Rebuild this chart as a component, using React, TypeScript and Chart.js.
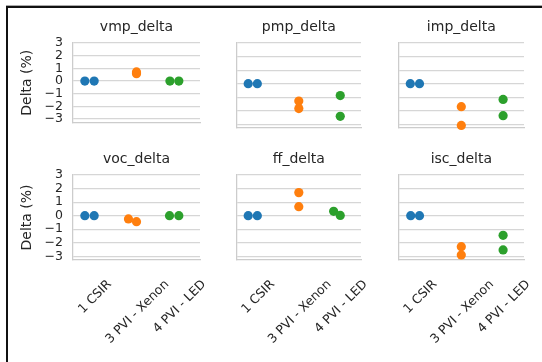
import React, { useEffect, useRef } from 'react';
import { Chart, registerables } from 'chart.js';

Chart.register(...registerables);

// ---------- data ----------
const categories = ['1 CSIR', '3 PVI - Xenon', '4 PVI - LED'];
const yTickValues = [-3, -2, -1, 0, 1, 2, 3];
const yMin = -3.27;
const yMax = 3;

// values per category (two measurements each)
const vmpDelta = [[0, 0], [0.72, 0.58], [0, 0]];
const pmpDelta = [[0, 0], [-1.28, -1.84], [-0.88, -2.41]];
const impDelta = [[0, 0], [-1.7, -3.08], [-1.16, -2.36]];
const vocDelta = [[0, 0], [-0.24, -0.44], [0, 0]];
const ffDelta = [[0, 0], [1.7, 0.66], [0.32, 0.02]];
const iscDelta = [[0, 0], [-2.29, -2.9], [-1.45, -2.53]];

// swarm jitter (category units)
const vmpJitter = [[-0.22, 0], [0, 0], [-0.21, 0]];
const pmpJitter = [[-0.22, 0], [0, 0], [0, 0]];
const impJitter = [[-0.22, 0], [0, 0], [0, 0]];
const vocJitter = [[-0.22, 0], [-0.19, 0], [-0.22, 0]];
const ffJitter = [[-0.22, 0], [0, 0], [-0.16, 0]];
const iscJitter = [[-0.21, 0], [0, 0], [0, 0]];

const panels = [
  { name: 'vmp_delta', values: vmpDelta, jitter: vmpJitter },
  { name: 'pmp_delta', values: pmpDelta, jitter: pmpJitter },
  { name: 'imp_delta', values: impDelta, jitter: impJitter },
  { name: 'voc_delta', values: vocDelta, jitter: vocJitter },
  { name: 'ff_delta', values: ffDelta, jitter: ffJitter },
  { name: 'isc_delta', values: iscDelta, jitter: iscJitter },
];

// ---------- style / layout ----------
const COLORS = ['#1f77b4', '#ff7f0e', '#2ca02c'];
const FONT = '"DejaVu Sans", "Liberation Sans", Arial, sans-serif';
const TEXT = '#262626';
const GRID = '#d6d6d6';
const SPINE = '#cccccc';
const COL_LEFT = [73, 236, 398];
const COL_W = [127, 125, 126];
const ROW_TOP = [43, 175];
const PLOT_H = 85;
const PAD_TOP = 43;
const LABEL_DX = 1;
const LABEL_DY = 18;

function fmt(v: number) {
  return v < 0 ? '\u2212' + Math.abs(v) : String(v);
}

function Panel({ index }: { index: number }) {
  const ref = useRef<HTMLCanvasElement>(null);
  const row = Math.floor(index / 3);
  const col = index % 3;
  const lw = col === 0 ? 73 : 4;
  const padBottom = row === 1 ? 100 : 12;
  const padRight = row === 1 ? 40 : 12;
  const width = lw + COL_W[col] + padRight;
  const height = PAD_TOP + PLOT_H + padBottom;
  const left = COL_LEFT[col] - lw;
  const top = ROW_TOP[row] - PAD_TOP;

  useEffect(() => {
    const p = panels[index];
    const decor = {
      id: 'decor',
      afterDraw(chart: any) {
        const { ctx, chartArea } = chart;
        ctx.save();
        ctx.fillStyle = TEXT;
        ctx.font = `14px ${FONT}`;
        ctx.textAlign = 'center';
        ctx.textBaseline = 'alphabetic';
        ctx.fillText(p.name, (chartArea.left + chartArea.right) / 2, chartArea.top - 12);
        if (col === 0) {
          ctx.translate(chartArea.left - 46, (chartArea.top + chartArea.bottom) / 2);
          ctx.rotate(-Math.PI / 2);
          ctx.textBaseline = 'middle';
          ctx.fillText('Delta (%)', 0, 0);
        }
        ctx.restore();
        if (row === 1) {
          const xs = chart.scales.x;
          ctx.save();
          ctx.font = `12.5px ${FONT}`;
          ctx.fillStyle = TEXT;
          categories.forEach((lab, i) => {
            const w = ctx.measureText(lab).width;
            const h = 12.5;
            const half = (w / 2 + h / 2) * Math.SQRT1_2;
            const cx = xs.getPixelForValue(i) + LABEL_DX;
            const cy = chartArea.bottom + LABEL_DY + half;
            ctx.save();
            ctx.translate(cx, cy);
            ctx.rotate(-Math.PI / 4);
            ctx.textAlign = 'center';
            ctx.textBaseline = 'middle';
            ctx.fillText(lab, 0, 0);
            ctx.restore();
          });
          ctx.restore();
        }
      },
    };

    const datasets = p.values.map((vals, k) => ({
      label: categories[k],
      data: vals.map((v, j) => ({ x: k + p.jitter[k][j], y: v })),
      backgroundColor: COLORS[k],
      borderColor: COLORS[k],
      borderWidth: 0,
      pointRadius: 4.6,
      pointHoverRadius: 4.6,
      clip: false as any,
    }));

    const chart = new Chart(ref.current!, {
      type: 'scatter',
      data: { datasets },
      options: {
        responsive: false,
        animation: false,
        devicePixelRatio: 1,
        layout: { padding: { top: PAD_TOP, left: 0, right: padRight, bottom: padBottom } },
        plugins: { legend: { display: false }, tooltip: { enabled: false }, title: { display: false } },
        events: [],
        scales: {
          x: {
            type: 'linear',
            min: -0.5,
            max: 2.5,
            grid: { display: false },
            border: { display: true, color: SPINE, width: 1.25 },
            ticks: { display: false },
            afterBuildTicks: (s: any) => {
              s.ticks = [0, 1, 2].map((v) => ({ value: v }));
            },
            afterFit: (s: any) => {
              s.height = 0;
            },
          },
          y: {
            type: 'linear',
            min: yMin,
            max: yMax,
            grid: { color: GRID, lineWidth: 1.2, drawTicks: false },
            border: { display: true, color: SPINE, width: 1.25 },
            ticks: {
              display: col === 0,
              autoSkip: false,
              padding: 10,
              color: TEXT,
              font: { family: FONT, size: 12.5 },
              callback: (v: any) => fmt(Number(v)),
            },
            afterBuildTicks: (s: any) => {
              s.ticks = yTickValues.map((v) => ({ value: v }));
            },
            afterFit: (s: any) => {
              s.width = lw;
            },
          },
        },
      },
      plugins: [decor],
    } as any);
    return () => chart.destroy();
  }, []);

  return (
    <canvas
      ref={ref}
      width={width}
      height={height}
      style={{ position: 'absolute', left, top, width: `${width}px`, height: `${height}px` }}
    />
  );
}

export default function App() {
  return (
    <div style={{ position: 'absolute', left: 0, top: 0, width: 542, height: 362, background: '#fff', overflow: 'hidden' }}>
      <div
        style={{
          position: 'absolute',
          left: 6,
          top: 6,
          width: 540,
          height: 360,
          borderTop: '2px solid #111',
          borderLeft: '2px solid #111',
          boxShadow: '0 -1px 0 #aaa',
        }}
      />
      {panels.map((_, i) => (
        <Panel key={i} index={i} />
      ))}
    </div>
  );
}
